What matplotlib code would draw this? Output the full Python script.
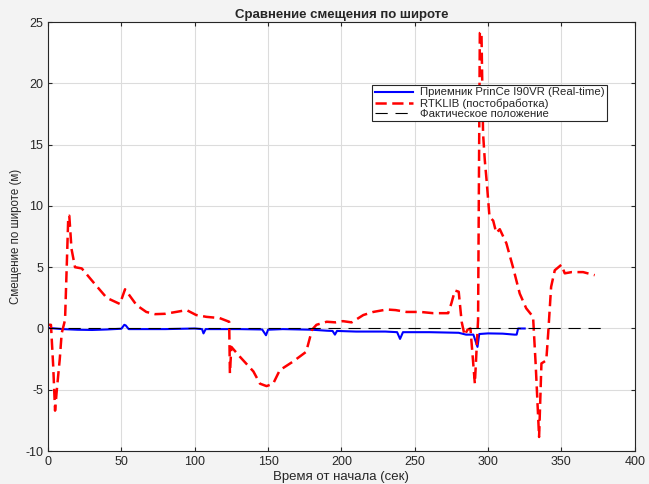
import numpy as np
import matplotlib
matplotlib.use('Agg')
import matplotlib.pyplot as plt

plt.rcParams['font.family'] = ['Liberation Sans', 'DejaVu Sans']
plt.rcParams['axes.unicode_minus'] = False

# RTKLIB (post-processing)
t_rtk = [0, 2, 3.5, 4.8, 6, 8, 9.3, 11.6, 13, 13.8, 14.5, 16, 18.4, 23, 30.7, 40, 49,
         52.5, 60.4, 67, 73, 80, 94.5, 101, 108, 117, 123.5, 124, 125, 130.8, 140,
         144.5, 149, 153.5, 158, 167, 176, 180, 183, 190, 196, 201, 207, 215, 221.7,
         231, 237, 244.4, 254, 262.6, 272.8, 275, 277.4, 280, 282, 284, 286, 288,
         291, 293.2, 294.4, 295.5, 296.6, 297.8, 299, 301, 303.5, 305.6, 308, 312.5,
         317, 321.6, 326, 330.7, 332.5, 334.8, 336.4, 339.7, 341, 343, 345.5, 350,
         352.3, 357, 364.8, 372.7]
v_rtk = [0.3, 0.3, -3.0, -6.7, -5.0, -2.5, -0.4, 0.7, 6.0, 9.1, 9.2, 6.5, 5.0, 4.9, 3.8,
         2.5, 2.0, 3.2, 1.9, 1.35, 1.17, 1.2, 1.5, 1.1, 0.95, 0.85, 0.55, -3.65, -1.5,
         -2.3, -3.5, -4.5, -4.7, -4.5, -3.4, -2.7, -1.9, -0.1, 0.3, 0.55, 0.5, 0.6,
         0.5, 1.1, 1.35, 1.55, 1.5, 1.35, 1.35, 1.25, 1.25, 2.05, 3.1, 3.0, 0.55,
         -0.55, -0.1, 0.0, -4.5, 0.7, 24.1, 24.2, 15.9, 13.7, 12.1, 9.1, 8.8, 7.8,
         8.1, 6.95, 5.0, 2.85, 1.65, 0.95, -3.0, -8.85, -2.85, -2.6, -0.4, 3.4, 4.75,
         5.2, 4.5, 4.6, 4.6, 4.35]

# PrinCe I90VR (real-time)
t_rx = [0, 10, 20, 30, 40, 50, 52, 53, 55, 60, 80, 100, 105, 106, 107.5, 110, 130,
        146, 148.6, 150, 160, 180, 190, 194, 195.6, 197, 210, 230, 238, 240, 242,
        260, 280, 285, 290, 292.8, 294, 300, 310, 318, 319.5, 320.5, 325]
v_rx = [0.05, -0.05, -0.1, -0.12, -0.08, -0.02, 0.3, 0.25, -0.05, -0.05, -0.05, 0.0,
        -0.05, -0.4, -0.05, -0.05, -0.05, -0.08, -0.55, -0.1, -0.05, -0.1, -0.18,
        -0.2, -0.5, -0.2, -0.25, -0.25, -0.3, -0.85, -0.3, -0.3, -0.35, -0.5, -0.5,
        -1.5, -0.45, -0.4, -0.42, -0.5, -0.5, 0.0, 0.0]

# actual position
t_true = [0, 377]
v_true = [0, 0]

fig = plt.figure(figsize=(6.49, 4.84), dpi=100, facecolor='#f3f3f3')
ax = fig.add_axes([0.074, 0.068, 0.904, 0.8865])

ax.plot(t_rx, v_rx, color='#0000ff', lw=1.5, label='Приемник PrinCe I90VR (Real-time)')
ax.plot(t_rtk, v_rtk, color='#ff0000', lw=1.8, ls=(0, (4.5, 2.2)), label='RTKLIB (постобработка)')
ax.plot(t_true, v_true, color='black', lw=0.8, ls=(0, (11, 7)), label='Фактическое положение')

ax.set_xlim(0, 400)
ax.set_ylim(-10, 25)
ax.set_xticks(np.arange(0, 401, 50))
ax.set_yticks(np.arange(-10, 26, 5))
ax.grid(True, color='#dcdcdc', lw=0.8)
ax.tick_params(labelsize=9, colors='#262626', direction='in', length=3, top=True, right=True)
for s in ax.spines.values():
    s.set_color('#262626')
    s.set_linewidth(0.8)

ax.set_title('Сравнение смещения по широте', fontsize=9.5, fontweight='bold', color='#262626', pad=3)
ax.set_xlabel('Время от начала (сек)', fontsize=9.5, color='#262626', labelpad=2)
ax.set_ylabel('Смещение по широте (м)', fontsize=8.3, color='#262626', labelpad=2)

leg = ax.legend(loc='upper left', bbox_to_anchor=(0.543, 0.866), fontsize=8.2,
                frameon=True, fancybox=False, edgecolor='#262626', framealpha=1,
                handlelength=3.4, borderpad=0.2, labelspacing=0.05, handletextpad=0.6)
leg.get_frame().set_linewidth(0.8)
for txt in leg.get_texts():
    txt.set_color('#262626')

fig.savefig('out.png', dpi=100, facecolor=fig.get_facecolor())
